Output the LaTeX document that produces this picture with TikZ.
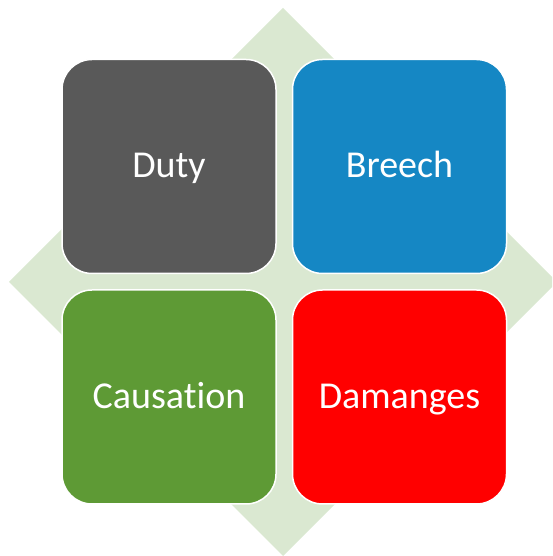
\documentclass[tikz,border=0pt]{standalone}
\usepackage{fontspec}
\setmainfont[Ligatures=NoCommon]{Carlito}
\definecolor{diag}{HTML}{DAE8D1}
\definecolor{dutyc}{HTML}{595959}
\definecolor{breechc}{HTML}{1587C4}
\definecolor{causc}{HTML}{5E9A35}
\definecolor{damc}{HTML}{FF0000}
\tikzset{
  tile/.style={draw=white, line width=1.5pt, rounded corners=30pt, minimum width=214pt, minimum height=214pt, inner sep=0pt, text height=23pt, text depth=0pt, text=white, font=\fontsize{38}{44}\selectfont}
}
\begin{document}
\begin{tikzpicture}[x=1pt,y=1pt]
\useasboundingbox (0,0) rectangle (552,556);
\clip (0,0) rectangle (552,556);
\fill[diag] (283,548) -- (557,274) -- (283,0) -- (9,274) -- cycle;
\node[tile, fill=dutyc] (duty) at (169,389.5) {Duty};
\node[tile, fill=breechc] (breech) at (399.5,389.5) {Breech};
\node[tile, fill=causc] (caus) at (169,159) {Causation};
\node[tile, fill=damc] (dam) at (399.5,159) {Damanges};
\end{tikzpicture}
\end{document}
